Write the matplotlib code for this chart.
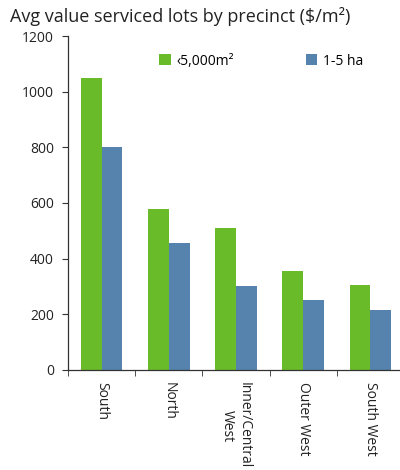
import numpy as np
import matplotlib.pyplot as plt

precincts = ["South", "North", "Inner/Central\nWest", "Outer West", "South West"]
small_lots = [1050, 580, 510, 355, 305]
large_lots = [800, 455, 300, 250, 215]
series_names = ["\u20395,000m\u00b2", "1-5 ha"]

green = "#6abb2a"
blue = "#5583ad"

plt.rcParams["font.family"] = ["Open Sans", "DejaVu Sans"]

fig = plt.figure(figsize=(4.0, 4.7), dpi=100)
ax = fig.add_axes([0.17, 0.2128, 0.84, 0.7106])

x = np.arange(len(precincts))
w = 0.31
ax.bar(x - w / 2, small_lots, w, color=green, label=series_names[0])
ax.bar(x + w / 2, large_lots, w, color=blue, label=series_names[1])

ax.set_xlim(-0.5, len(precincts) - 0.5)
ax.set_ylim(0, 1200)
ax.set_yticks(range(0, 1201, 200))

ax.set_xticks(x)
ax.set_xticklabels(precincts, rotation=270, va="top", ha="center",
                   fontsize=10, color="#222222")
ax.set_xticks(np.arange(-0.5, len(precincts)), minor=True)
ax.tick_params(axis="x", which="major", length=0, pad=9)
ax.tick_params(axis="x", which="minor", length=4, direction="out",
               color="#333333")
ax.tick_params(axis="y", length=4, labelsize=10, labelcolor="#222222",
               color="#333333", pad=6)

for side in ["top", "right"]:
    ax.spines[side].set_visible(False)
for side in ["left", "bottom"]:
    ax.spines[side].set_color("#333333")
    ax.spines[side].set_linewidth(0.9)

ax.legend(loc="upper left", bbox_to_anchor=(0.235, 0.985), ncol=2,
          frameon=False, fontsize=10, handlelength=0.8, handleheight=0.8,
          handletextpad=0.4, columnspacing=5.2)

fig.text(0.025, 0.965, "Avg value serviced lots by precinct ($/m\u00b2)",
         fontsize=13, color="#222222", va="center", ha="left")

fig.savefig("out.png", dpi=100)
